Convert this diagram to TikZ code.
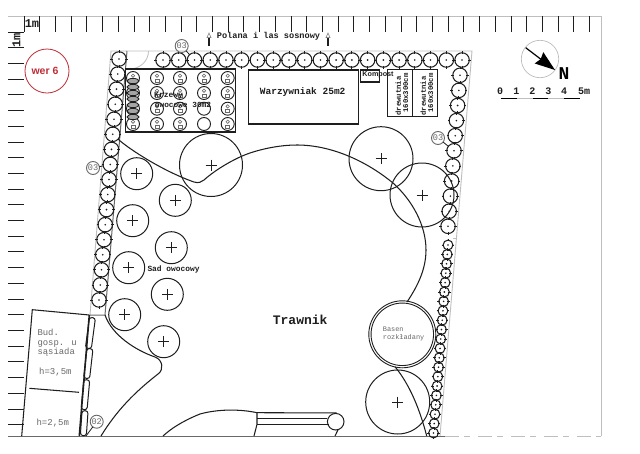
\documentclass[tikz,border=0pt]{standalone}
\usepackage{fontspec}
\setmainfont{Liberation Mono}
\newfontfamily\sansf{Liberation Sans}
\usetikzlibrary{arrows.meta}
\definecolor{redwer}{RGB}{190,45,55}
\definecolor{rule}{RGB}{190,190,190}
\definecolor{ink}{RGB}{30,30,30}
\definecolor{soft}{RGB}{105,105,105}
\tikzset{
  ruletick/.style={draw=ink,line width=0.9pt},
  rulefaint/.style={draw=rule,line width=0.9pt},
  outline/.style={draw=ink,line width=1.05pt},
  plantnode/.style={circle,draw=ink,line width=1.05pt,inner sep=0pt,outer sep=0pt},
  treenode/.style={circle,draw=ink,line width=1pt,inner sep=0pt,outer sep=0pt,minimum size=#1},
  tagnode/.style={circle,draw=soft,line width=0.9pt,inner sep=0pt,outer sep=0pt,minimum size=13pt,text=soft,font=\fontsize{8.6}{8.6}\selectfont},
  boxnode/.style={rectangle,draw=ink,line width=1.1pt,inner sep=0pt,outer sep=0pt},
  capsule/.style={rectangle,draw=ink,line width=1pt,rounded corners=2.6pt,inner sep=0pt,outer sep=0pt,minimum height=6pt},
  bushnode/.style={circle,draw=ink,line width=0.9pt,inner sep=0pt,outer sep=0pt,minimum size=13pt},
  lab/.style={inner sep=0pt,text=ink},
  softlab/.style={inner sep=0pt,text=soft,align=left}
}
\newcommand{\hedgeplant}[4]{%
  \node[plantnode,minimum size=#4] (#1) at (#2,#3) {};
  \fill[ink] (#1.center) circle[radius=0.9pt];
  \draw[ink,line width=0.8pt] (#1.north)++(0,-1.3)--++(0,2.6) (#1.south)++(0,-1.3)--++(0,2.6) (#1.east)++(-1.3,0)--++(2.6,0) (#1.west)++(-1.3,0)--++(2.6,0);
}
\newcommand{\treeplus}[4]{%
  \node[treenode=#4] (#1) at (#2,#3) {};
  \draw[ink,line width=0.9pt] (#1.center)++(-5.5,0)--++(11,0) (#1.center)++(0,-5.5)--++(0,11);
}
\newcommand{\bush}[3]{%
  \node[bushnode] (#1) at (#2,#3) {};
  \draw[soft,line width=0.6pt] (#1.center)++(0,-2.3) circle[radius=1.7pt];
  \draw[soft,line width=0.6pt] (#1.center)++(-2,1) rectangle ++(4,2.8);
}
\begin{document}
\begin{tikzpicture}[x=1pt,y=-1pt]
\useasboundingbox (0,0) rectangle (640,453);
\fill[white] (0,0) rectangle (640,453);
% frame and rulers
\coordinate (tl) at (8,16); \coordinate (tr) at (601,16);
\coordinate (bl) at (8,436); \coordinate (bm) at (445,436); \coordinate (br) at (601,436);
\draw[rulefaint] (tl)--(tr)--(br);
\draw[draw=soft,line width=1pt] (bl)--(bm);
\draw[rulefaint,dash pattern=on 14pt off 5pt on 6pt off 8pt] (bm)--(br);
\foreach \i in {0,...,36} \draw[ruletick] ({24+15.71*\i},16)--({24+15.71*\i},32);
\foreach \i in {0,...,25} \draw[ruletick] (8,{32+15.71*\i})--(24,{32+15.71*\i});
\node[lab,font=\fontsize{12}{12}\selectfont\bfseries] (mtop) at (32,24) {1m};
\node[lab,rotate=90,font=\fontsize{12}{12}\selectfont\bfseries] (mleft) at (16.5,40) {1m};
% version stamp
\node[circle,draw=redwer,line width=0.8pt,minimum size=44pt,inner sep=0pt] (wer) at (47,71) {};
\node[inner sep=0pt,text=redwer,font=\sansf\bfseries\fontsize{10.5}{10.5}\selectfont] (wertxt) at (45,71) {wer 6};
% plot border
\coordinate (pa) at (111,51); \coordinate (pb) at (472,51); \coordinate (pc) at (440,436); \coordinate (pd) at (90,315);
\draw[draw=rule,line width=0.9pt] (pd)--(pa)--(pb)--(pc);
\draw[draw=rule,line width=0.8pt] (452.7,238)--(456,238);
\coordinate (pe) at (127,51); \coordinate (pf) at (105,315);
\draw[draw=soft,line width=1pt] (pe)--(pf)--(pd);
\draw[draw=rule,line width=0.8pt] (148.5,51) .. controls (148.5,61) and (140,69) .. (129.5,69);
% title top
\node[lab,anchor=west,font=\fontsize{8.6}{8.6}\selectfont\bfseries] (polana) at (216.7,36.5) {Polana i las sosnowy};
\foreach \n/\xx in {a/209,b/328}{
  \draw[ink,line width=1.6pt] (\xx,38)--(\xx,46);
  \draw[soft,line width=0.5pt,fill=white] (\xx,33)--(\xx+2,37.5)--(\xx-2,37.5)--cycle;
}
% hedges
\foreach \i in {0,...,19}{\hedgeplant{t\i}{163+15.74*\i}{60}{14.5pt}}
\foreach \i in {0,...,16}{\hedgeplant{l\i}{119-1.25*\i}{59+15.06*\i}{14.5pt}}
\foreach \i in {0,...,10}{\hedgeplant{r\i}{460-1.2*\i}{75.3+15.1*\i}{14.5pt}}
\foreach \i in {0,...,20}{\hedgeplant{s\i}{448-0.725*\i}{245+9.4*\i}{9.8pt}}
% Krzewy
\node[boxnode,minimum width=110pt,minimum height=63pt] (krzewy) at (180.7,100.5) {};
\foreach \c/\xx in {1/133,2/157,3/180,4/204,5/227.7}{
  \foreach \r/\yy in {1/78,2/93,3/108.7,4/124}{
    \ifnum\c\r=43 \node[bushnode] (b\c\r) at (\xx,\yy) {};
    \else\ifnum\c\r=44 \node[bushnode] (b\c\r) at (\xx,\yy) {};
    \else \bush{b\c\r}{\xx}{\yy}\fi\fi
  }
}
\foreach \yy in {81,87,93,99,105,111,117}
  \draw[ink,line width=0.8pt,fill=soft!60] (133,\yy) ellipse[x radius=6pt,y radius=2.6pt];
\node[lab,anchor=west,font=\fontsize{8}{8}\selectfont\bfseries] (kz1) at (154,96) {Krzewy};
\node[lab,anchor=west,font=\fontsize{7.8}{8}\selectfont\bfseries] (kz2) at (154.7,104.5) {owocowe 30m2};
% Warzywniak
\node[boxnode,minimum width=110pt,minimum height=54pt] (warz) at (303.5,97) {};
\node[lab,font=\fontsize{9.5}{9.5}\selectfont\bfseries] (warztxt) at (302.7,91.7) {Warzywniak 25m2};
% Kompost
\node[boxnode,minimum width=19pt,minimum height=12pt] (komp) at (370.2,76) {};
\node[lab,font=\sansf\fontsize{7.2}{7.2}\selectfont\bfseries] (komptxt) at (378,74.3) {Kompost};
% drewutnia
\node[boxnode,minimum width=25pt,minimum height=47pt] (dr1) at (400.2,93.2) {};
\node[boxnode,minimum width=25pt,minimum height=47pt] (dr2) at (425.2,93.2) {};
\foreach \nn/\xx in {dr1a/398.3,dr2a/423.3}
  \node[lab,rotate=90,font=\fontsize{7.3}{7.3}\selectfont\bfseries] (\nn) at (\xx,96) {drewutnia};
\foreach \nn/\xx in {dr1b/405.7,dr2b/430.7}
  \node[lab,rotate=90,font=\fontsize{7.3}{7.3}\selectfont\bfseries] (\nn) at (\xx,93) {160x300cm};
% big trees
\treeplus{big1}{211}{165}{63pt}
\treeplus{big2}{381}{158.7}{64pt}
\treeplus{big3}{422}{195}{64pt}
\treeplus{big4}{397.7}{402}{64pt}
% orchard
\treeplus{o1}{136.7}{173.7}{32pt}
\treeplus{o2}{175.3}{200.3}{32pt}
\treeplus{o3}{132.7}{220.7}{32pt}
\treeplus{o4}{171.3}{247.7}{32pt}
\treeplus{o5}{128.7}{267.7}{32pt}
\treeplus{o6}{167.3}{294.3}{32pt}
\treeplus{o7}{124.7}{314.7}{32pt}
\treeplus{o8}{163.7}{341.7}{32pt}
\node[lab,anchor=west,font=\fontsize{7.9}{8}\selectfont\bfseries] (sad) at (147.3,269.3) {Sad owocowy};
% lawn edges
\draw[outline] (l5) .. controls (130,150) and (165,172) .. (194,182)
  .. controls (199,183.5) and (201,182) .. (204,180)
  .. controls (215,170) and (235,158) .. (250,153)
  .. controls (265,148) and (282,145) .. (297,145)
  .. controls (330,145) and (365,160) .. (393,183)
  .. controls (412,200) and (426,225) .. (426,250)
  .. controls (426,270) and (417,287) .. (407,302);
\draw[outline] (395,366.7) .. controls (410,385) and (420,410) .. (426.7,436);
\draw[outline] (pf) .. controls (112,335) and (135,350) .. (155,357)
  .. controls (163,360) and (164,370) .. (158,374)
  .. controls (135,392) and (117,410) .. (101,436);
\node[lab,font=\fontsize{13}{13}\selectfont\bfseries] (trawnik) at (300.2,320) {Trawnik};
% pool
\node[circle,draw=ink,line width=0.9pt,minimum size=67pt,inner sep=0pt] (basen) at (402.3,334.3) {};
\node[circle,draw=ink,line width=0.9pt,minimum size=62.5pt,inner sep=0pt] (baseni) at (402.3,334.3) {};
\node[lab,anchor=west,text=soft,align=left,font=\fontsize{6.9}{7.4}\selectfont] (basentxt) at (382.7,334) {Basen\\rozkładany};
% neighbour building
\coordinate (ba) at (32.3,309.7); \coordinate (bb) at (89.3,315); \coordinate (bc) at (79.3,436); \coordinate (bd) at (21.7,436);
\draw[outline] (bd)--(ba)--(bb);
\draw[ink,line width=1.6pt] (bb)--(bc);
\coordinate (be) at (29.3,388.3); \coordinate (bf) at (79,392.3);
\draw[outline] (be)--(bf);
\node[softlab,anchor=north west,font=\fontsize{8.9}{9.4}\selectfont] (bud) at (37.3,329) {Bud.\\gosp. u\\sąsiada};
\node[softlab,font=\fontsize{9}{9}\selectfont] (h1) at (55.4,371.7) {h=3,5m};
\node[softlab,font=\fontsize{9}{9}\selectfont] (h2) at (52.8,423) {h=2,5m};
\node[capsule,rotate=82.4,minimum width=31pt] (c1) at (90.4,333) {};
\node[capsule,rotate=83.5,minimum width=30pt] (c2) at (88.3,363.5) {};
\node[capsule,rotate=84.8,minimum width=30pt] (c3) at (85.4,394.7) {};
\node[capsule,rotate=86,minimum width=25pt] (c4) at (84.2,423.2) {};
% terrace / drive
\draw[outline] (163,436) .. controls (175,425) and (190,418) .. (200,414)
  .. controls (218,409) and (240,409) .. (257,412.7);
\node[circle,draw=ink,line width=1pt,minimum size=16.6pt,inner sep=0pt,outer sep=0pt] (round) at (335.7,421.7) {};
\coordinate (d1) at (257,412.7); \coordinate (d2) at (257,418.3); \coordinate (d3) at (257,424.3); \coordinate (d4) at (254,436);
\draw[outline] (d1)--(d2)--(d3)--(d4);
\draw[outline] (d1)--(336.7,412.9);
\draw[outline] (d2)--(327.2,418.3);
\draw[outline] (d3)--(328.5,424.3);
\draw[outline] (338,429.8)--(335,436);
% tags
\node[tagnode] (tag1) at (181.7,46) {03};
\node[tagnode] (tag2) at (438,138) {03};
\node[tagnode] (tag3) at (93,168) {03};
\node[tagnode] (tag4) at (96.7,421.7) {02};
\draw[ink,line width=0.8pt] (tag1)--(t2);
\draw[ink,line width=0.8pt] (tag2)--(r5);
\draw[ink,line width=0.8pt] (tag3)--(l7);
\coordinate (tag4end) at (86,436);
\draw[ink,line width=0.8pt] (tag4)--(tag4end);
% compass
\node[circle,draw=rule,line width=0.7pt,minimum size=37.4pt,inner sep=0pt] (comp) at (540,59) {};
\coordinate (ctail) at (525.7,47.7); \coordinate (ctip) at (555,70);
\draw[black,line width=1.2pt,-{Stealth[length=20pt,width=14pt,inset=2pt]}] (ctail)--(ctip);
\node[lab,text=black,font=\fontsize{18}{18}\selectfont\bfseries] (north) at (564,73.5) {N};
% scale
\foreach \nn/\xx/\tt in {s0/500/0,s1/516.3/1,s2/532.3/2,s3/548.3/3,s4/564/4}
  \node[lab,font=\fontsize{10}{10}\selectfont\bfseries] (\nn) at (\xx,91) {\tt};
\node[lab,font=\fontsize{10}{10}\selectfont\bfseries] (s5) at (584,91) {5m};
\draw[black,line width=1.3pt] (501.3,98.3)--(517,98.3) (532.7,98.3)--(548.3,98.3) (564,98.3)--(579.7,98.3);
\draw[rule,line width=1.1pt] (517,98.3)--(532.7,98.3) (548.3,98.3)--(564,98.3);
\end{tikzpicture}
\end{document}
